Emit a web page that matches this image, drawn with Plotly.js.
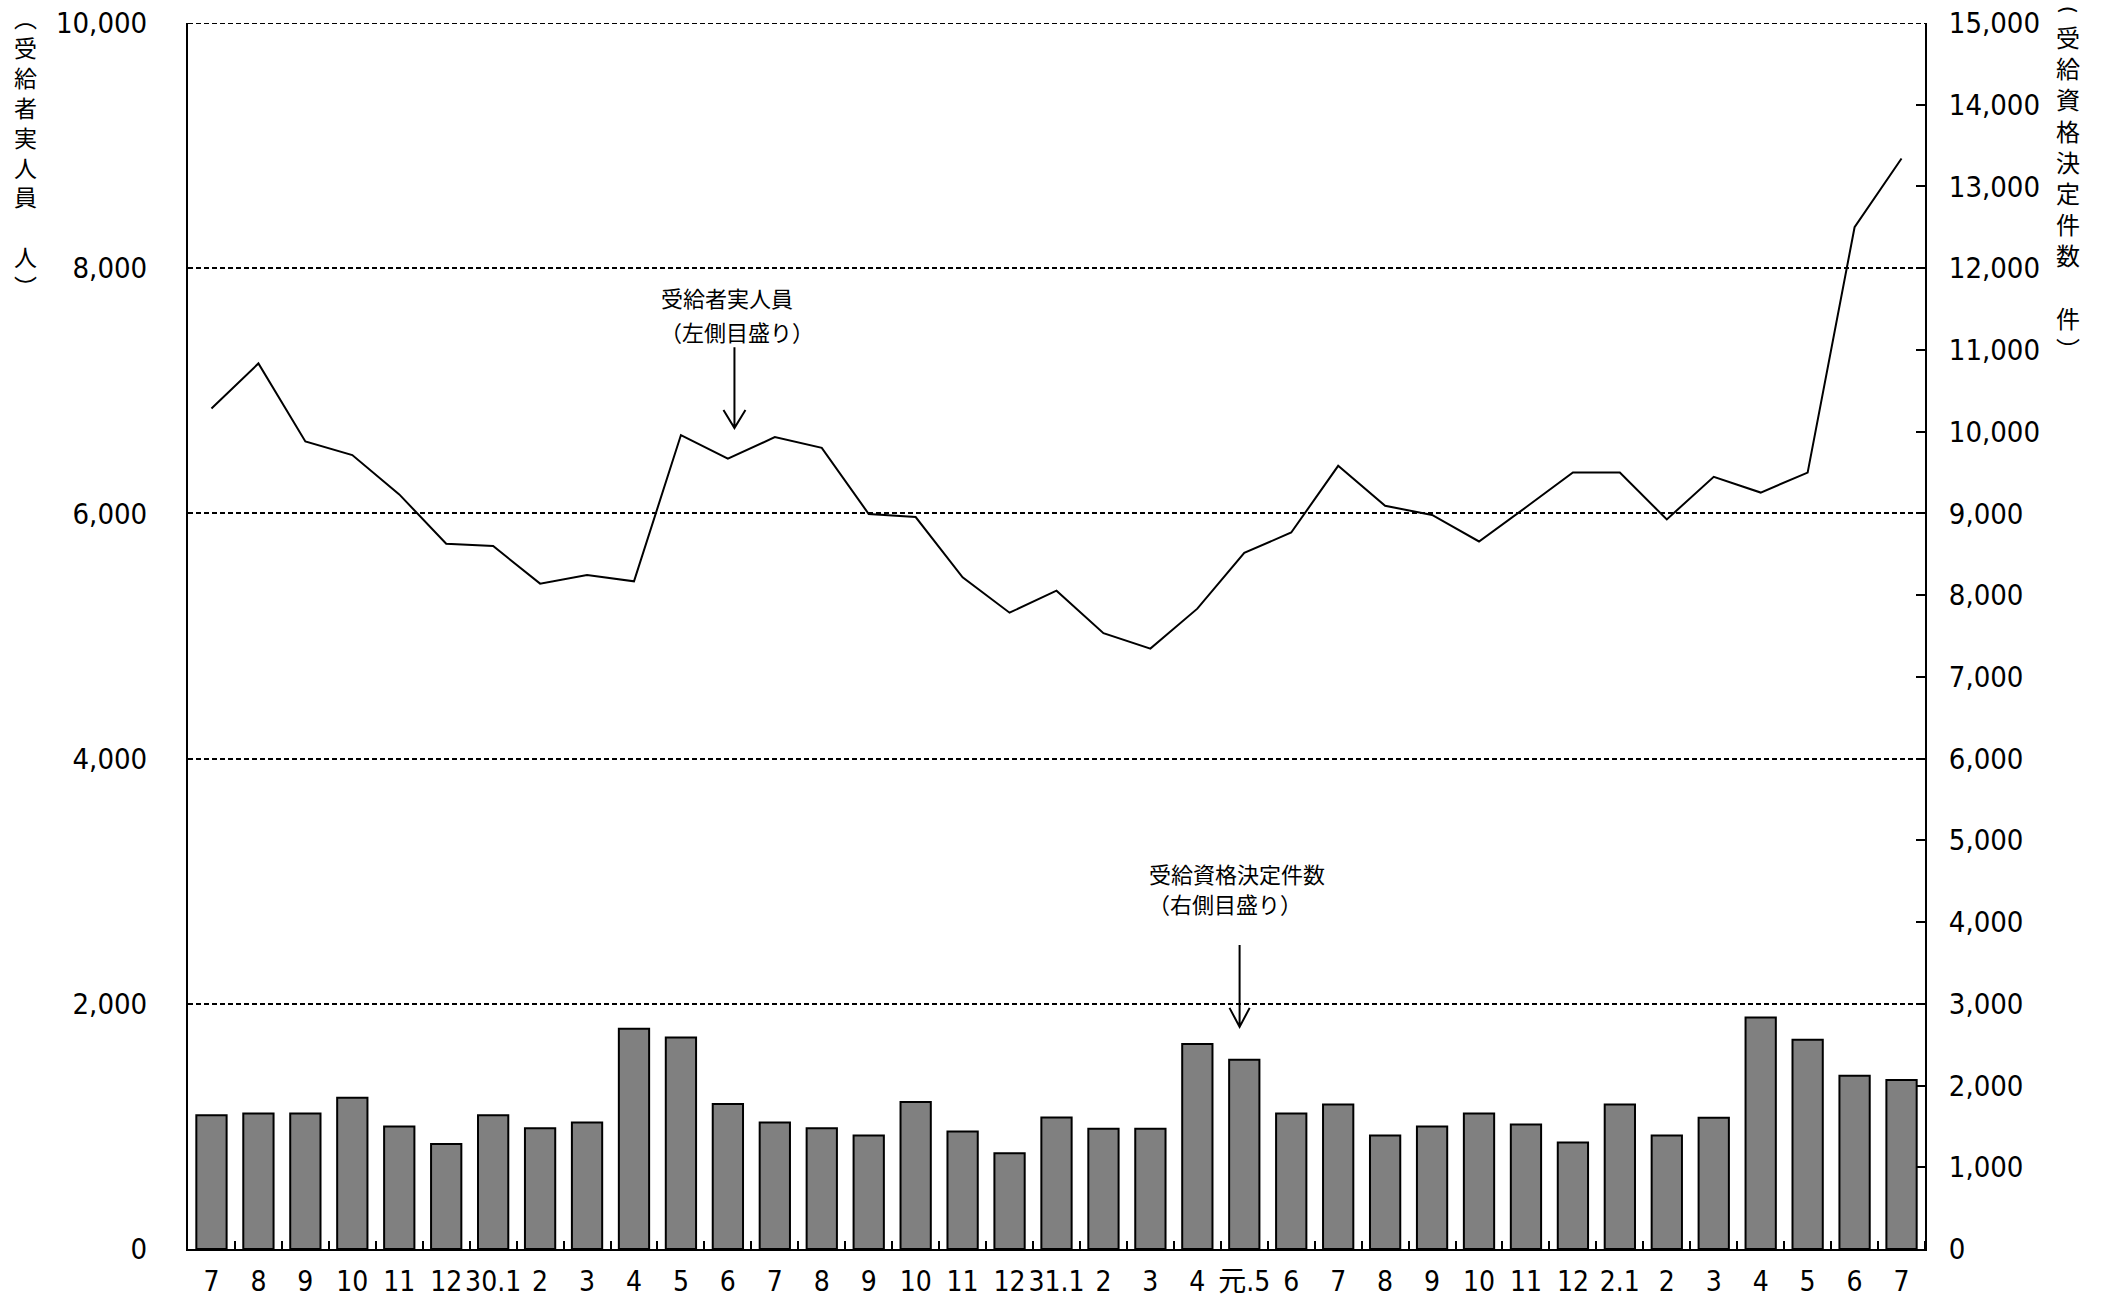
<!DOCTYPE html>
<html>
<head>
<meta charset="utf-8">
<script src="https://cdn.plot.ly/plotly-3.0.1.min.js"></script>
<style>html,body{margin:0;padding:0;background:#fff;}#chart{width:2105px;height:1303px;}</style>
</head>
<body>
<div id="chart"></div>
<script>
// Month labels (H29.7 - R2.7)
const monthLabels = ["7","8","9","10","11","12","30.1","2","3","4","5","6","7","8","9","10","11","12","31.1","2","3","4","元.5","6","7","8","9","10","11","12","2.1","2","3","4","5","6","7"];
// 受給者実人員 (left scale, persons)
const recipients = [6856,7223,6587,6476,6155,5753,5734,5427,5497,5446,6639,6446,6622,6535,5995,5970,5478,5190,5370,5023,4897,5223,5678,5844,6388,6062,5987,5771,6050,6333,6333,5951,6298,6170,6333,8334,8895];
// 受給資格決定件数 (right scale, cases)
const decisions = [1635,1659,1659,1851,1500,1284,1635,1476,1549,2694,2588,1773,1549,1476,1390,1798,1439,1170,1610,1471,1471,2507,2315,1659,1769,1390,1500,1659,1524,1304,1769,1390,1606,2833,2560,2120,2067];

const leftTitle = "︵<br>受<br>給<br>者<br>実<br>人<br>員<br>　<br>人<br>︶";
const rightTitle = "受<br>給<br>資<br>格<br>決<br>定<br>件<br>数<br>　<br>件<br>︶";

const NUM_FONT = "'DejaVu Sans Condensed', 'Liberation Sans Narrow', 'Noto Sans CJK JP', sans-serif";
const CJK_FONT = "'Noto Sans CJK JP', 'Noto Sans CJK SC', sans-serif";

const idx = monthLabels.map((_, i) => i);
const bounds = idx.map(i => i + 0.5);

const traces = [
  {
    type: 'bar', x: idx, y: decisions, yaxis: 'y2', name: '受給資格決定件数',
    marker: {color: '#808080', line: {color: '#000', width: 2}},
    width: 0.645, hoverinfo: 'skip'
  },
  {
    type: 'scatter', mode: 'lines', x: idx, y: recipients, yaxis: 'y', name: '受給者実人員',
    line: {color: '#000', width: 2}, hoverinfo: 'skip'
  }
];

const arrowPath = (x, yTop, yTip, hw, hh) =>
  `M${x},${yTop} L${x},${yTip} M${x - hw},${yTip + hh} L${x},${yTip} L${x + hw},${yTip + hh}`;

const layout = {
  width: 2105, height: 1303,
  margin: {l: 188, r: 180, t: 23, b: 54, pad: 0},
  paper_bgcolor: '#fff', plot_bgcolor: '#fff',
  showlegend: false,
  font: {family: NUM_FONT, color: '#000', size: 29},
  xaxis: {
    range: [-0.5, 36.5], tickmode: 'array', tickvals: idx, ticktext: monthLabels,
    ticks: '', tickangle: 0, showline: true, linecolor: '#000', linewidth: 2,
    showgrid: false, zeroline: false, fixedrange: true,
    ticklabelstandoff: 6,
    tickfont: {family: NUM_FONT, size: 28, color: '#000'},
    minor: {tickmode: 'array', tickvals: bounds, ticks: 'inside', ticklen: 8, tickwidth: 2, tickcolor: '#000', showgrid: false}
  },
  yaxis: {
    range: [0, 10000], dtick: 2000, tickformat: ',', ticks: '',
    showline: true, linecolor: '#000', linewidth: 2,
    showgrid: true, gridcolor: '#000', gridwidth: 2, griddash: '5px,3px',
    zeroline: false, fixedrange: true, ticklabelstandoff: 33,
    tickfont: {family: NUM_FONT, size: 29, color: '#000'}
  },
  yaxis2: {
    overlaying: 'y', side: 'right', range: [0, 15000], dtick: 1000, tickformat: ',',
    ticks: 'inside', ticklen: 9, tickwidth: 2, tickcolor: '#000',
    showline: true, linecolor: '#000', linewidth: 2, showgrid: false, zeroline: false,
    fixedrange: true, ticklabelstandoff: 16,
    tickfont: {family: NUM_FONT, size: 29, color: '#000'}
  },
  shapes: [
    {type: 'line', xref: 'paper', yref: 'y', x0: 0, x1: 1, y0: 10000, y1: 10000,
     line: {color: '#000', width: 2, dash: '5px,3px'}},
    {type: 'path', xref: 'x', yref: 'y', path: arrowPath(11.14, 7356, 6696, 0.234, 147), line: {color: '#000', width: 2}},
    {type: 'path', xref: 'x', yref: 'y', path: arrowPath(21.9, 2480, 1812, 0.215, 155), line: {color: '#000', width: 2}}
  ],
  annotations: [
    {xref: 'paper', yref: 'paper', x: 0, y: 1, xanchor: 'center', yanchor: 'top', xshift: -163, yshift: 25,
     text: leftTitle, showarrow: false, font: {family: CJK_FONT, size: 23, color: '#000'}},
    {xref: 'paper', yref: 'paper', x: 1, y: 1, xanchor: 'center', yanchor: 'top', xshift: 143, yshift: 6,
     text: rightTitle, showarrow: false, font: {family: CJK_FONT, size: 24, color: '#000'}},
    {xref: 'paper', yref: 'paper', x: 1, y: 1, xanchor: 'center', yanchor: 'top', xshift: 143, yshift: 20,
     text: '(', textangle: 90, showarrow: false, font: {family: "'DejaVu Sans', sans-serif", size: 22, color: '#000'}},
    {xref: 'x', yref: 'y', x: 10.98, y: 7764, text: '受給者実人員', showarrow: false,
     font: {family: CJK_FONT, size: 22, color: '#000'}},
    {xref: 'x', yref: 'y', x: 11.19, y: 7486, text: '（左側目盛り）', showarrow: false,
     font: {family: CJK_FONT, size: 22, color: '#000'}},
    {xref: 'x', yref: 'y', x: 21.84, y: 3068, text: '受給資格決定件数', showarrow: false,
     font: {family: CJK_FONT, size: 22, color: '#000'}},
    {xref: 'x', yref: 'y', x: 21.59, y: 2823, text: '（右側目盛り）', showarrow: false,
     font: {family: CJK_FONT, size: 22, color: '#000'}}
  ]
};

Plotly.newPlot('chart', traces, layout, {staticPlot: true, displayModeBar: false});
</script>
</body>
</html>
